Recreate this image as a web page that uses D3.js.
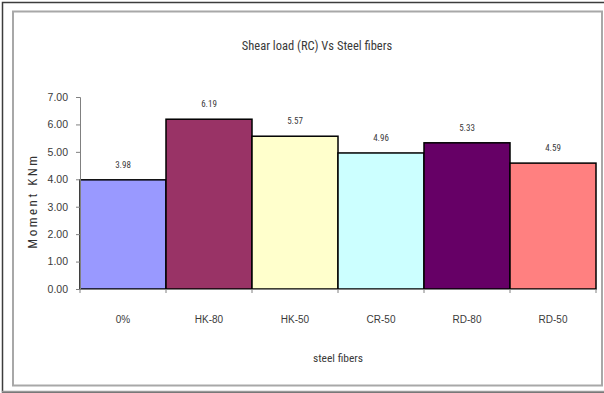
<!DOCTYPE html>
<html>
<head>
<meta charset="utf-8">
<script src="https://cdn.jsdelivr.net/npm/d3@7"></script>
<style>
  html, body { margin: 0; padding: 0; background: #fff; }
  svg { display: block; }
  text { font-family: "Liberation Sans Narrow", "Arial Narrow", "Roboto Condensed", "Liberation Sans", sans-serif; fill: #3a3a3a; }
</style>
</head>
<body>
<svg id="chart" width="604" height="393"></svg>
<script>
// Moment per steel-fiber type
const categories = ["0%", "HK-80", "HK-50", "CR-50", "RD-80", "RD-50"];
const moments = [3.98, 6.19, 5.57, 4.96, 5.33, 4.59];
const barColors = ["#9999FF", "#993366", "#FFFFCC", "#CCFFFF", "#660066", "#FF8080"];
const yTicks = [0, 1, 2, 3, 4, 5, 6, 7];

const svg = d3.select("#chart");

// chart frames
svg.append("rect").attr("x", 2.5).attr("y", 2.5).attr("width", 610).attr("height", 389.5)
  .attr("fill", "none").attr("stroke", "#3c3c3c").attr("stroke-width", 1.5);
svg.append("line").attr("x1", 2).attr("x2", 604).attr("y1", 391.5).attr("y2", 391.5)
  .attr("stroke", "#9a9a9a").attr("stroke-width", 1.5);
svg.append("rect").attr("x", 13).attr("y", 11.5).attr("width", 589).attr("height", 374)
  .attr("fill", "#fff").attr("stroke", "#a8a8a8").attr("stroke-width", 2);

const plot = { left: 80, right: 596, top: 97, bottom: 289 };

const x = d3.scaleBand().domain(categories).range([plot.left, plot.right]).padding(0);
const y = d3.scaleLinear().domain([0, 7]).range([plot.bottom, plot.top]);

// bars
svg.append("g").selectAll("rect").data(categories).join("rect")
  .attr("x", d => x(d))
  .attr("y", (d, i) => y(moments[i]))
  .attr("width", x.bandwidth())
  .attr("height", (d, i) => y(0) - y(moments[i]))
  .attr("fill", (d, i) => barColors[i])
  .attr("stroke", "#000").attr("stroke-width", 1.5);

// value labels
svg.append("g").selectAll("text").data(categories).join("text")
  .attr("x", d => x(d) + x.bandwidth() / 2)
  .attr("y", (d, i) => y(moments[i]) - 12)
  .attr("text-anchor", "middle")
  .attr("font-size", 9)
  .text((d, i) => moments[i].toFixed(2));

// y axis
const yAxis = svg.append("g").attr("transform", `translate(${plot.left},0)`)
  .call(d3.axisLeft(y).tickValues(yTicks).tickFormat(d3.format(".2f")).tickSizeOuter(0).tickSize(4).tickPadding(8));
yAxis.select(".domain").attr("stroke", "#808080");
yAxis.selectAll(".tick line").attr("stroke", "#808080");
yAxis.selectAll(".tick text").attr("font-size", 10.5).attr("fill", "#333")
  .style("font-family", "\"Liberation Sans Narrow\", \"Arial Narrow\", sans-serif");

// x axis
const xAxis = svg.append("g").attr("transform", `translate(0,${plot.bottom})`)
  .call(d3.axisBottom(x).tickSize(0).tickPadding(27));
xAxis.select(".domain").attr("stroke", "#808080");
xAxis.selectAll(".tick text").attr("font-size", 10).attr("fill", "#3a3a3a")
  .style("font-family", "\"Liberation Sans Narrow\", \"Arial Narrow\", sans-serif");
// category separator ticks
svg.append("g").selectAll("line").data(categories.concat(["end"])).join("line")
  .attr("x1", (d, i) => plot.left + i * x.bandwidth())
  .attr("x2", (d, i) => plot.left + i * x.bandwidth())
  .attr("y1", plot.bottom).attr("y2", plot.bottom + 4)
  .attr("stroke", "#808080");

// title
svg.append("text").attr("x", 317).attr("y", 50).attr("text-anchor", "middle")
  .attr("font-size", 12.5).text("Shear load (RC) Vs Steel fibers");

// axis titles
svg.append("text").attr("x", (plot.left + plot.right) / 2).attr("y", 362)
  .attr("text-anchor", "middle").attr("font-size", 11.5).text("steel fibers");
svg.append("text")
  .attr("transform", `translate(37,${(plot.top + plot.bottom) / 2 + 8}) rotate(-90)`)
  .attr("text-anchor", "middle").attr("font-size", 13).attr("letter-spacing", 2.5)
  .style("fill", "#333")
  .text("Moment KNm");
</script>
</body>
</html>
